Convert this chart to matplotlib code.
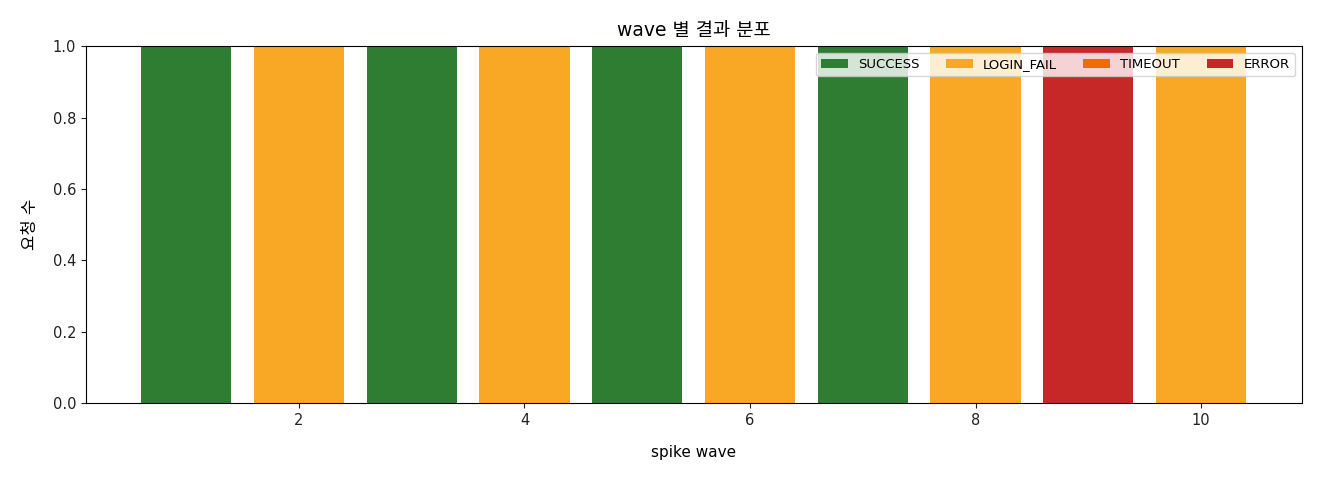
import numpy as np
import matplotlib
matplotlib.use('Agg')
import matplotlib.pyplot as plt

plt.rcParams['font.family'] = ['DejaVu Sans', 'Noto Sans CJK KR']
plt.rcParams['axes.unicode_minus'] = False

waves = np.arange(1, 11)
success = [1, 0, 1, 0, 1, 0, 1, 0, 0, 0]
login_fail = [0, 1, 0, 1, 0, 1, 0, 1, 0, 1]
timeout = [0, 0, 0, 0, 0, 0, 0, 0, 0, 0]
error = [0, 0, 0, 0, 0, 0, 0, 0, 1, 0]

series = [
    ('SUCCESS', success, '#2e7d32'),
    ('LOGIN_FAIL', login_fail, '#f9a825'),
    ('TIMEOUT', timeout, '#ef6c00'),
    ('ERROR', error, '#c62828'),
]

fig, ax = plt.subplots(figsize=(13.2, 4.8), dpi=100)
fig.subplots_adjust(left=0.065, right=0.986, top=0.904, bottom=0.16)

# stacked bars, one layer per result type
bottom = np.zeros(len(waves))
for name, vals, color in series:
    vals = np.array(vals, dtype=float)
    ax.bar(waves, vals, bottom=bottom, color=color, label=name, width=0.8)
    bottom += vals

ax.set_ylim(0, 1)
ax.tick_params(labelsize=10.5, colors='#222222')
ax.set_title('wave 별 결과 분포', fontsize=13.5, pad=7)
ax.set_xlabel('spike wave', fontsize=11, labelpad=12)
ax.set_ylabel('요청 수', fontsize=12, labelpad=10)
ax.legend(ncol=4, fontsize=9.5, loc='upper right')

fig.savefig('out.png', dpi=100)
